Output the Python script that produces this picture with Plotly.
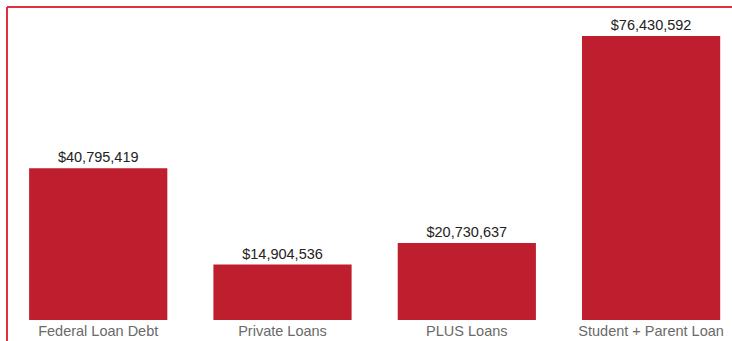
import plotly.graph_objects as go

categories = ["Federal Loan Debt", "Private Loans", "PLUS Loans", "Student + Parent Loan"]
amounts = [40795419, 14904536, 20730637, 76430592]
amount_labels = ["$40,795,419", "$14,904,536", "$20,730,637", "$76,430,592"]

BAR_RED = "#be1e2d"
FRAME_RED = "#e0303f"

fig = go.Figure(
    go.Bar(
        x=categories,
        y=amounts,
        text=amount_labels,
        textposition="outside",
        textfont=dict(family="Liberation Sans, Arial, sans-serif", size=14.5, color="#222222"),
        cliponaxis=False,
        marker=dict(color=BAR_RED, line=dict(width=0)),
        hoverinfo="skip",
    )
)

fig.update_layout(
    width=732,
    height=341,
    margin=dict(l=7, r=0, t=7, b=21),
    paper_bgcolor="white",
    plot_bgcolor="white",
    bargap=0.25,
    showlegend=False,
    xaxis=dict(
        range=[-0.495, 3.439],
        showgrid=False,
        zeroline=False,
        showline=False,
        ticks="",
        tickfont=dict(family="Liberation Sans, Arial, sans-serif", size=14.5, color="#6a6a6a"),
        fixedrange=True,
    ),
    yaxis=dict(
        range=[0, 84.2e6],
        showgrid=False,
        zeroline=False,
        showline=False,
        showticklabels=False,
        ticks="",
        fixedrange=True,
    ),
    shapes=[
        # left and top edges of the frame
        dict(type="line", xref="paper", yref="paper", x0=0, x1=0, y0=-0.1, y1=1.0,
             line=dict(color=FRAME_RED, width=2)),
        dict(type="line", xref="paper", yref="paper", x0=0, x1=1.01, y0=1.0, y1=1.0,
             line=dict(color=FRAME_RED, width=2)),
    ],
)

fig.write_html("out.html")
